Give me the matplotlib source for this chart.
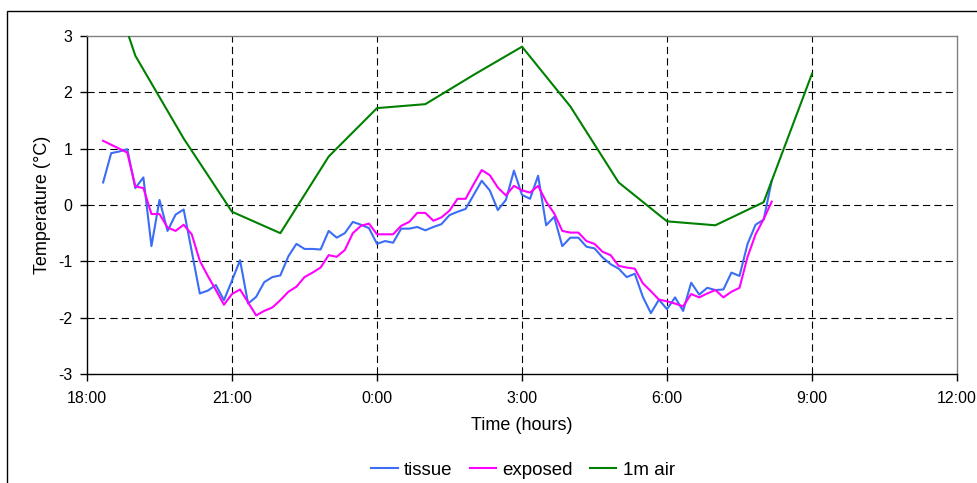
import matplotlib
matplotlib.use('Agg')
import matplotlib.pyplot as plt
import matplotlib.dates as mdates
from matplotlib.patches import Rectangle
from matplotlib.ticker import FuncFormatter
import pandas as pd

plt.rcParams['font.family'] = ['Liberation Sans', 'DejaVu Sans']
plt.rcParams['axes.unicode_minus'] = False

# 10-minute samples, 18:20 -> 08:10
t_start = '2000-01-01 18:20'
n_samples = 84
tissue = [0.40, 0.92, 0.95, 0.99, 0.30, 0.49, -0.73, 0.09, -0.46, -0.17,
          -0.08, -0.82, -1.57, -1.52, -1.42, -1.69, -1.34, -0.98, -1.75, -1.63,
          -1.37, -1.28, -1.25, -0.91, -0.69, -0.78, -0.78, -0.79, -0.46, -0.58,
          -0.50, -0.30, -0.35, -0.41, -0.69, -0.64, -0.67, -0.42, -0.42, -0.39,
          -0.45, -0.39, -0.34, -0.18, -0.12, -0.07, 0.18, 0.43, 0.26, -0.09,
          0.09, 0.61, 0.18, 0.11, 0.52, -0.36, -0.21, -0.73, -0.58, -0.58,
          -0.74, -0.77, -0.93, -1.05, -1.13, -1.28, -1.22, -1.63, -1.92, -1.68,
          -1.85, -1.64, -1.88, -1.38, -1.59, -1.47, -1.51, -1.50, -1.20, -1.26,
          -0.69, -0.35, -0.26, 0.43]
exposed = [1.14, 1.07, 1.00, 0.93, 0.33, 0.30, -0.16, -0.16, -0.40, -0.46,
           -0.35, -0.52, -0.99, -1.26, -1.51, -1.77, -1.58, -1.50, -1.73, -1.96,
           -1.88, -1.82, -1.69, -1.54, -1.45, -1.28, -1.20, -1.11, -0.89, -0.92,
           -0.80, -0.50, -0.37, -0.33, -0.52, -0.52, -0.52, -0.37, -0.30, -0.14,
           -0.14, -0.28, -0.22, -0.10, 0.11, 0.11, 0.37, 0.62, 0.53, 0.31,
           0.17, 0.34, 0.26, 0.22, 0.34, 0.06, -0.15, -0.46, -0.49, -0.49,
           -0.64, -0.69, -0.83, -0.89, -1.08, -1.11, -1.13, -1.39, -1.53, -1.68,
           -1.71, -1.75, -1.80, -1.58, -1.64, -1.57, -1.51, -1.64, -1.54, -1.47,
           -0.92, -0.52, -0.25, 0.06]

# hourly 1 m air, 18:00 -> 09:00
air_start = '2000-01-01 18:00'
air = [5.2, 2.65, 1.18, -0.12, -0.50, 0.86, 1.72, 1.79, 2.31, 2.81,
       1.75, 0.40, -0.29, -0.36, 0.05, 2.33]

t = pd.date_range(t_start, periods=n_samples, freq='10min')
t_air = pd.date_range(air_start, periods=len(air), freq='1h')

fig = plt.figure(figsize=(9.78, 4.83), dpi=100, facecolor='white')
ax = fig.add_axes([87/978, 1-374/483, 870/978, 338/483])

ax.plot(t, tissue, color='#3b6df5', lw=1.5, label='tissue', zorder=4)
ax.plot(t, exposed, color='#ff00ff', lw=1.5, label='exposed', zorder=4)
ax.plot(t_air, air, color='#008000', lw=1.5, label='1m air', zorder=4)

ax.set_ylim(-3, 3)
ax.set_xlim(pd.Timestamp('2000-01-01 18:00'), pd.Timestamp('2000-01-02 12:00'))
ax.set_yticks(range(-3, 4))
ax.xaxis.set_major_locator(mdates.HourLocator(byhour=range(0, 24, 3)))
ax.xaxis.set_major_formatter(FuncFormatter(
    lambda v, p: f"{mdates.num2date(v).hour}:00"))

ax.grid(True, color='black', lw=0.8, linestyle=(0, (6.5, 3.8)))
for gl in (ax.yaxis.get_gridlines()[0], ax.yaxis.get_gridlines()[-1],
           ax.xaxis.get_gridlines()[0], ax.xaxis.get_gridlines()[-1]):
    gl.set_visible(False)

for s in ('top', 'right'):
    ax.spines[s].set_color('#808080')
for s in ('left', 'bottom'):
    ax.spines[s].set_color('black')
for s in ax.spines.values():
    s.set_linewidth(1.0)

ax.tick_params(axis='both', direction='out', length=5, width=1.0,
               labelsize=11.5, colors='black')
ax.tick_params(axis='y', pad=5.5)
ax.tick_params(axis='x', pad=7)

ax.set_ylabel('Temperature (°C)', fontsize=13, labelpad=5)
ax.set_xlabel('Time (hours)', fontsize=13, labelpad=8)

fig.legend(loc='center', bbox_to_anchor=(523/978, 1-470/483), ncol=3,
           frameon=False, fontsize=13.5, handlelength=1.4, handletextpad=0.35,
           columnspacing=0.9)

fig.add_artist(Rectangle((7/978, -0.1), 1.2, 1-11/483+0.1,
                         transform=fig.transFigure, fill=False,
                         edgecolor='black', lw=1.0))

fig.savefig('out.png', dpi=100, facecolor='white')
